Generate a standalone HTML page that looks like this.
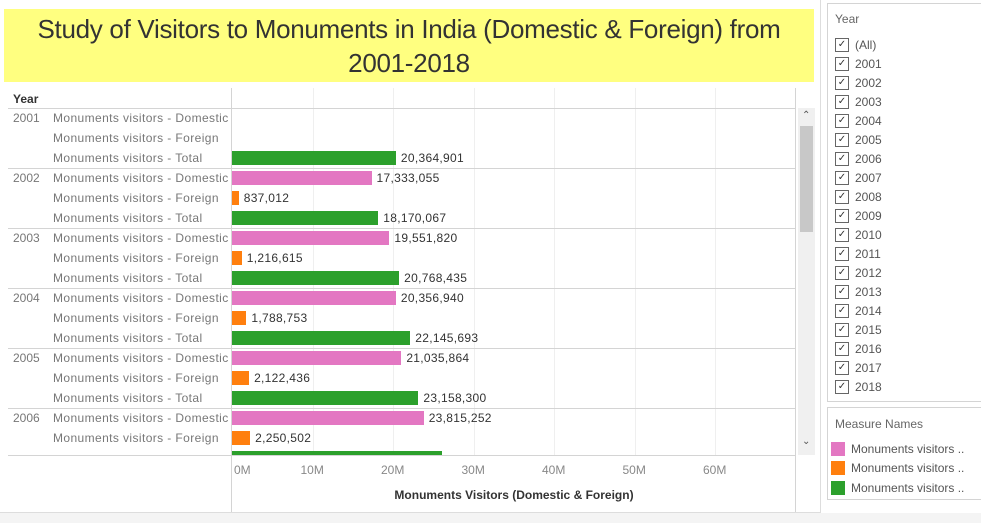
<!DOCTYPE html>
<html><head><meta charset="utf-8"><style>
body{margin:0;width:981px;height:523px;background:#fff;font-family:"Liberation Sans",sans-serif;position:relative;overflow:hidden}
.abs{position:absolute}
#title{left:4px;top:9px;width:810px;height:73px;background:#ffff80;color:#333;font-size:26px;text-align:center;line-height:34px;padding-top:3px;box-sizing:border-box;letter-spacing:-0.3px}
.lbl{font-size:12px;color:#777;white-space:nowrap}
.ml{letter-spacing:0.4px}
.val{font-size:12px;color:#333;white-space:nowrap;letter-spacing:0.3px}
.box{border:1px solid #d4d4d4;background:#fff}
.cb{width:12px;height:12px;border:1px solid #666;font-size:10px;line-height:12px;text-align:center;color:#333}
</style></head><body>
<div class="abs" style="left:0;top:0;width:820px;height:512px;border-right:1px solid #ddd;border-bottom:1px solid #ddd"></div>
<div class="abs" style="left:0;top:513px;width:981px;height:10px;background:#f4f4f4"></div>
<div id="title" class="abs">Study of Visitors to Monuments in India (Domestic &amp; Foreign) from<br>2001-2018</div>
<div class="abs" style="left:13px;top:92px;font-size:12px;font-weight:bold;color:#333">Year</div>
<div class="abs" id="chart" style="left:0;top:0;width:820px;height:512px"></div>
<div class="abs" style="left:798px;top:108px;width:17px;height:347px;background:#f0f0f0">
<div class="abs" style="left:4px;top:2px;font-size:10px;color:#555">&#8963;</div>
<div class="abs" style="left:2px;top:18px;width:13px;height:106px;background:#c8c8c8"></div>
<div class="abs" style="left:4px;top:328px;font-size:10px;color:#555">&#8964;</div>
</div>
<div class="abs" style="left:232px;width:564px;top:488px;text-align:center;font-size:12px;font-weight:bold;color:#333">Monuments Visitors (Domestic &amp; Foreign)</div>

<div class="abs box" style="left:827px;top:3px;width:153px;height:397px">
<div class="abs" style="left:7px;top:8px;font-size:12px;color:#666">Year</div>
<div id="yf"></div>
</div>
<div class="abs box" style="left:827px;top:407px;width:153px;height:91px">
<div class="abs" style="left:7px;top:9px;font-size:12px;color:#666">Measure Names</div>
<div class="abs" style="left:3px;top:34px"><div class="abs" style="width:14px;height:14px;background:#e377c2"></div><div class="abs lbl" style="left:20px;top:0;color:#555">Monuments visitors ..</div></div>
<div class="abs" style="left:3px;top:53px"><div class="abs" style="width:14px;height:14px;background:#ff7f0e"></div><div class="abs lbl" style="left:20px;top:0;color:#555">Monuments visitors ..</div></div>
<div class="abs" style="left:3px;top:73px"><div class="abs" style="width:14px;height:14px;background:#2ca02c"></div><div class="abs lbl" style="left:20px;top:0;color:#555">Monuments visitors ..</div></div>
</div>
<script>
const years=["2001","2002","2003","2004","2005","2006"];
const domestic=[null,17333055,19551820,20356940,21035864,23815252];
const foreign=[null,837012,1216615,1788753,2122436,2250502];
const total=[20364901,18170067,20768435,22145693,23158300,26065754];
const ticks=[0,10,20,30,40,50,60];
const tickLabels=["0M","10M","20M","30M","40M","50M","60M"];
const filterItems=["(All)","2001","2002","2003","2004","2005","2006","2007","2008","2009","2010","2011","2012","2013","2014","2015","2016","2017","2018"];
const X0=232,PXM=8.05,TOP=108,ROW=20,BOTTOM=455;
const x=v=>X0+v/1e6*PXM;
const c=document.getElementById('chart');
function div(css,name,inter,txt,cls){const d=document.createElement('div');d.className='abs '+(cls||'');d.style.cssText=css;


if(txt!=null)d.textContent=txt;c.appendChild(d);return d;}
ticks.forEach((t,i)=>{const gx=x(t*1e6);
if(i>0)div(`left:${gx}px;top:88px;width:1px;height:367px;background:#efefef`,'gridline','false');
div(`left:${Math.max(gx-12,234)}px;top:463px;font-size:12px;color:#888`,'x-tick-label','false',tickLabels[i]);});
div(`left:231px;top:88px;width:1px;height:424px;background:#d4d4d4`,'y-axis-line','false');
div(`left:795px;top:88px;width:1px;height:424px;background:#d4d4d4`,'right-border','false');
div(`left:8px;top:108px;width:787px;height:1px;background:#d4d4d4`,'header-line','false');
div(`left:8px;top:455px;width:787px;height:1px;background:#d4d4d4`,'x-axis-line','false');
const names=["Monuments visitors - Domestic","Monuments visitors - Foreign","Monuments visitors - Total"];
const cols=["#e377c2","#ff7f0e","#2ca02c"];
years.forEach((y,i)=>{const base=TOP+i*60;
if(i>0)div(`left:8px;top:${base}px;width:787px;height:1px;background:#d4d4d4`,'year-separator','false');
if(base<BOTTOM)div(`left:13px;top:${base+3}px`,'year-label','false',y,'lbl');
[domestic[i],foreign[i],total[i]].forEach((v,k)=>{const ry=base+k*ROW;if(ry>=BOTTOM)return;
const visH=Math.min(14,BOTTOM-(ry+3));
if(ry+3<BOTTOM-8)div(`left:53px;top:${ry+3}px`,'measure-label','false',names[k],'lbl ml');
if(v==null)return;
div(`left:${X0}px;top:${ry+3}px;width:${x(v)-X0}px;height:${visH}px;background:${cols[k]}`,'bar-'+['domestic','foreign','total'][k]+'-'+y,'true');
if(visH>=14)div(`left:${x(v)+5}px;top:${ry+3}px`,'value-label','false',v.toLocaleString('en-US'),'val');});});
const yf=document.getElementById('yf');
filterItems.forEach((t,i)=>{const r=document.createElement('div');r.className='abs';r.style.cssText=`left:7px;top:${34+i*19}px`;


r.innerHTML=`<div class="abs cb">&#10003;</div><div class="abs" style="left:20px;top:0;font-size:12px;color:#555;white-space:nowrap">${t}</div>`;yf.appendChild(r);});
</script>
</body></html>
